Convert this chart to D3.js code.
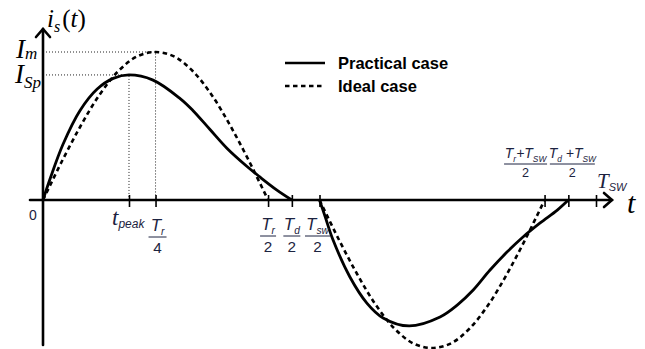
<!DOCTYPE html>
<html>
<head>
<meta charset="utf-8">
<script src="https://cdn.jsdelivr.net/npm/d3@7"></script>
<style>
body { margin: 0; background: #fff; }
svg { display: block; }
</style>
</head>
<body>
<svg id="chart" width="645" height="349"></svg>
<script>
// 時間以 Tsw 為單位, 電流以 Im 為單位
const Tsw = 1, Tr = 0.814, Td = 0.9, tPeak = 0.1555;
const ISp = 0.845, Im = 1;

// 實際情況 (正半週 / 負半週) [t, i]
const practicalPos = [
    [0, 0], [0.013, 0.145], [0.036, 0.375], [0.067, 0.605], [0.098, 0.75],
    [0.127, 0.822], [0.1555, 0.845], [0.199, 0.81], [0.248, 0.685],
    [0.271, 0.605], [0.302, 0.476], [0.333, 0.348], [0.369, 0.226],
    [0.392, 0.156], [0.423, 0.067], [0.45, 0]
];
const practicalNeg = [
    [0.5, 0], [0.51, -0.11], [0.524, -0.265], [0.555, -0.52], [0.586, -0.698],
    [0.615, -0.797], [0.662, -0.851], [0.718, -0.79], [0.749, -0.71],
    [0.778, -0.608], [0.808, -0.475], [0.839, -0.352], [0.868, -0.25],
    [0.899, -0.155], [0.93, -0.068], [0.95, 0]
];

// 理想情況
const idealPosT = [0, 0.034, 0.068, 0.102, 0.136, 0.170, 0.2035, 0.237, 0.271, 0.305, 0.339, 0.373, 0.407];
const idealPosI = [0, 0.26, 0.50, 0.71, 0.87, 0.97, 1, 0.97, 0.87, 0.71, 0.50, 0.26, 0];
const idealNegT = [0.5, 0.534, 0.568, 0.602, 0.636, 0.670, 0.7035, 0.737, 0.771, 0.805, 0.839, 0.873, 0.907];
const idealNegI = [0, -0.26, -0.50, -0.71, -0.87, -0.97, -1, -0.97, -0.87, -0.71, -0.50, -0.26, 0];

// 刻度
const tickValues = [tPeak, Tr / 4, Tr / 2, Td / 2, Tsw / 2, (Tr + Tsw) / 2, (Td + Tsw) / 2, Tsw];

const svg = d3.select('#chart');
const x = d3.scaleLinear().domain([0, 1]).range([43, 596]);
const y = d3.scaleLinear().domain([-1, 1]).range([348, 52]);
const y0 = y(0);

const serif = '"Liberation Serif", "DejaVu Serif", serif';
const sans = '"Liberation Sans", Arial, sans-serif';
const labelColor = '#1c2340';

// 參考虛線 Im / ISp
const guides = svg.append('g')
    .attr('stroke', '#222').attr('stroke-width', 1).attr('stroke-dasharray', '1,2').attr('fill', 'none');
guides.append('path').attr('d', `M${x(0)},${y(Im)}H${x(Tr / 4)}V${y0}`);
guides.append('path').attr('d', `M${x(0)},${y(ISp)}H${x(tPeak)}V${y0}`);

// 曲線
const line = d3.line().x(d => x(d[0])).y(d => y(d[1])).curve(d3.curveCatmullRom.alpha(0.5));
const idealPos = idealPosT.map((t, i) => [t, idealPosI[i]]);
const idealNeg = idealNegT.map((t, i) => [t, idealNegI[i]]);

[idealPos, idealNeg].forEach(d => {
    svg.append('path').attr('d', line(d))
        .attr('fill', 'none').attr('stroke', '#000').attr('stroke-width', 2.6)
        .attr('stroke-dasharray', '4.5,3.5');
});
[practicalPos, practicalNeg].forEach(d => {
    svg.append('path').attr('d', line(d))
        .attr('fill', 'none').attr('stroke', '#000').attr('stroke-width', 2.8);
});

// 座標軸
const axes = svg.append('g').attr('stroke', '#000').attr('fill', 'none').attr('stroke-linecap', 'round');
axes.append('line').attr('x1', 30).attr('x2', 612).attr('y1', y0).attr('y2', y0).attr('stroke-width', 2.6);
axes.append('path').attr('d', `M604,${y0 - 7}L612,${y0}L604,${y0 + 7}`).attr('stroke-width', 2.6);
axes.append('line').attr('x1', x(0)).attr('x2', x(0)).attr('y1', 29).attr('y2', 345).attr('stroke-width', 2.6);
axes.append('path').attr('d', `M${x(0) - 7},37L${x(0)},29L${x(0) + 7},37`).attr('stroke-width', 2.6);

const xAxis = d3.axisBottom(x).tickValues(tickValues).tickSize(7).tickFormat('');
const gx = svg.append('g').attr('transform', `translate(0,${y0})`).call(xAxis);
gx.select('.domain').remove();
gx.selectAll('.tick line').attr('y1', -5).attr('stroke', '#000').attr('stroke-width', 1.6);

// 圖例
const legend = [
    { label: 'Practical case', dash: null, y: 63 },
    { label: 'Ideal case', dash: '4.5,3.5', y: 86 }
];
legend.forEach(l => {
    svg.append('line').attr('x1', 285).attr('x2', 325).attr('y1', l.y).attr('y2', l.y)
        .attr('stroke', '#000').attr('stroke-width', 2.6).attr('stroke-dasharray', l.dash);
    svg.append('text').attr('x', 338).attr('y', l.y + 5.5)
        .attr('font-family', sans).attr('font-weight', 'bold').attr('font-size', 16.5)
        .text(l.label);
});

// 文字標籤
function txt(xp, yp, size, family, italic) {
    return svg.append('text').attr('x', xp).attr('y', yp)
        .attr('font-family', family).attr('font-size', size)
        .attr('font-style', italic ? 'italic' : 'normal');
}

// y 軸標籤 i_s(t)
const ylab = txt(47, 27, 25, serif, true);
ylab.append('tspan').text('i');
ylab.append('tspan').attr('font-size', 16).attr('dy', 5).text('s');
ylab.append('tspan').attr('dy', -5).attr('dx', 2).attr('font-style', 'normal').text('(');
ylab.append('tspan').text('t');
ylab.append('tspan').attr('font-style', 'normal').text(')');

const imLab = txt(16, 58, 27, serif, true);
imLab.append('tspan').text('I');
imLab.append('tspan').attr('font-size', 17).attr('dy', 1).text('m');
const ispLab = txt(15, 83, 27, serif, true);
ispLab.append('tspan').text('I');
ispLab.append('tspan').attr('font-size', 17).attr('dy', 5).text('Sp');

// x 軸標籤
txt(x(0) - 10, 220, 14, sans, false).attr('fill', labelColor).attr('text-anchor', 'middle').text('0');
txt(627, 213, 30, serif, true).text('t');

const tpk = txt(x(tPeak) - 17, 225, 23, serif, true).attr('fill', labelColor);
tpk.append('tspan').text('t');
tpk.append('tspan').attr('font-family', sans).attr('font-size', 12).attr('dy', 3).text('peak');

// 分數標籤
function fraction(cx, parts, den, size, lineY, w) {
    const g = svg.append('g').attr('fill', labelColor);
    const num = g.append('text').attr('x', cx).attr('y', lineY - 6)
        .attr('text-anchor', 'middle').attr('font-family', sans)
        .attr('font-style', 'italic').attr('font-size', size);
    parts.forEach((p, k) => {
        num.append('tspan').attr('dy', k === 0 ? 0 : -4).text(p.main);
        num.append('tspan').attr('font-size', size * 0.6).attr('dy', 4).text(p.sub);
    });
    g.append('line').attr('x1', cx - w / 2).attr('x2', cx + w / 2).attr('y1', lineY).attr('y2', lineY)
        .attr('stroke', labelColor).attr('stroke-width', 1);
    g.append('text').attr('x', cx).attr('y', lineY + size * 0.95)
        .attr('text-anchor', 'middle').attr('font-family', sans).attr('font-size', size * 0.9)
        .text(den);
}

fraction(x(Tr / 4) + 2, [{ main: 'T', sub: 'r' }], '4', 17, 237, 18);
fraction(x(Tr / 2), [{ main: 'T', sub: 'r' }], '2', 17, 236, 16);
fraction(x(Td / 2), [{ main: 'T', sub: 'd' }], '2', 17, 236, 17);
fraction(x(Tsw / 2) - 2, [{ main: 'T', sub: 'sw' }], '2', 17, 236, 25);
fraction(x((Tr + Tsw) / 2) - 19, [{ main: 'T', sub: 'r' }, { main: '+T', sub: 'SW' }], '2', 14, 164, 43);
fraction(x((Td + Tsw) / 2) + 4, [{ main: 'T', sub: 'd' }, { main: ' +T', sub: 'SW' }], '2', 14, 164, 45);

const tswLab = txt(597, 188, 21, serif, true).attr('fill', labelColor);
tswLab.append('tspan').text('T');
tswLab.append('tspan').attr('font-family', sans).attr('font-size', 11).attr('dy', 3).text('SW');
</script>
</body>
</html>
